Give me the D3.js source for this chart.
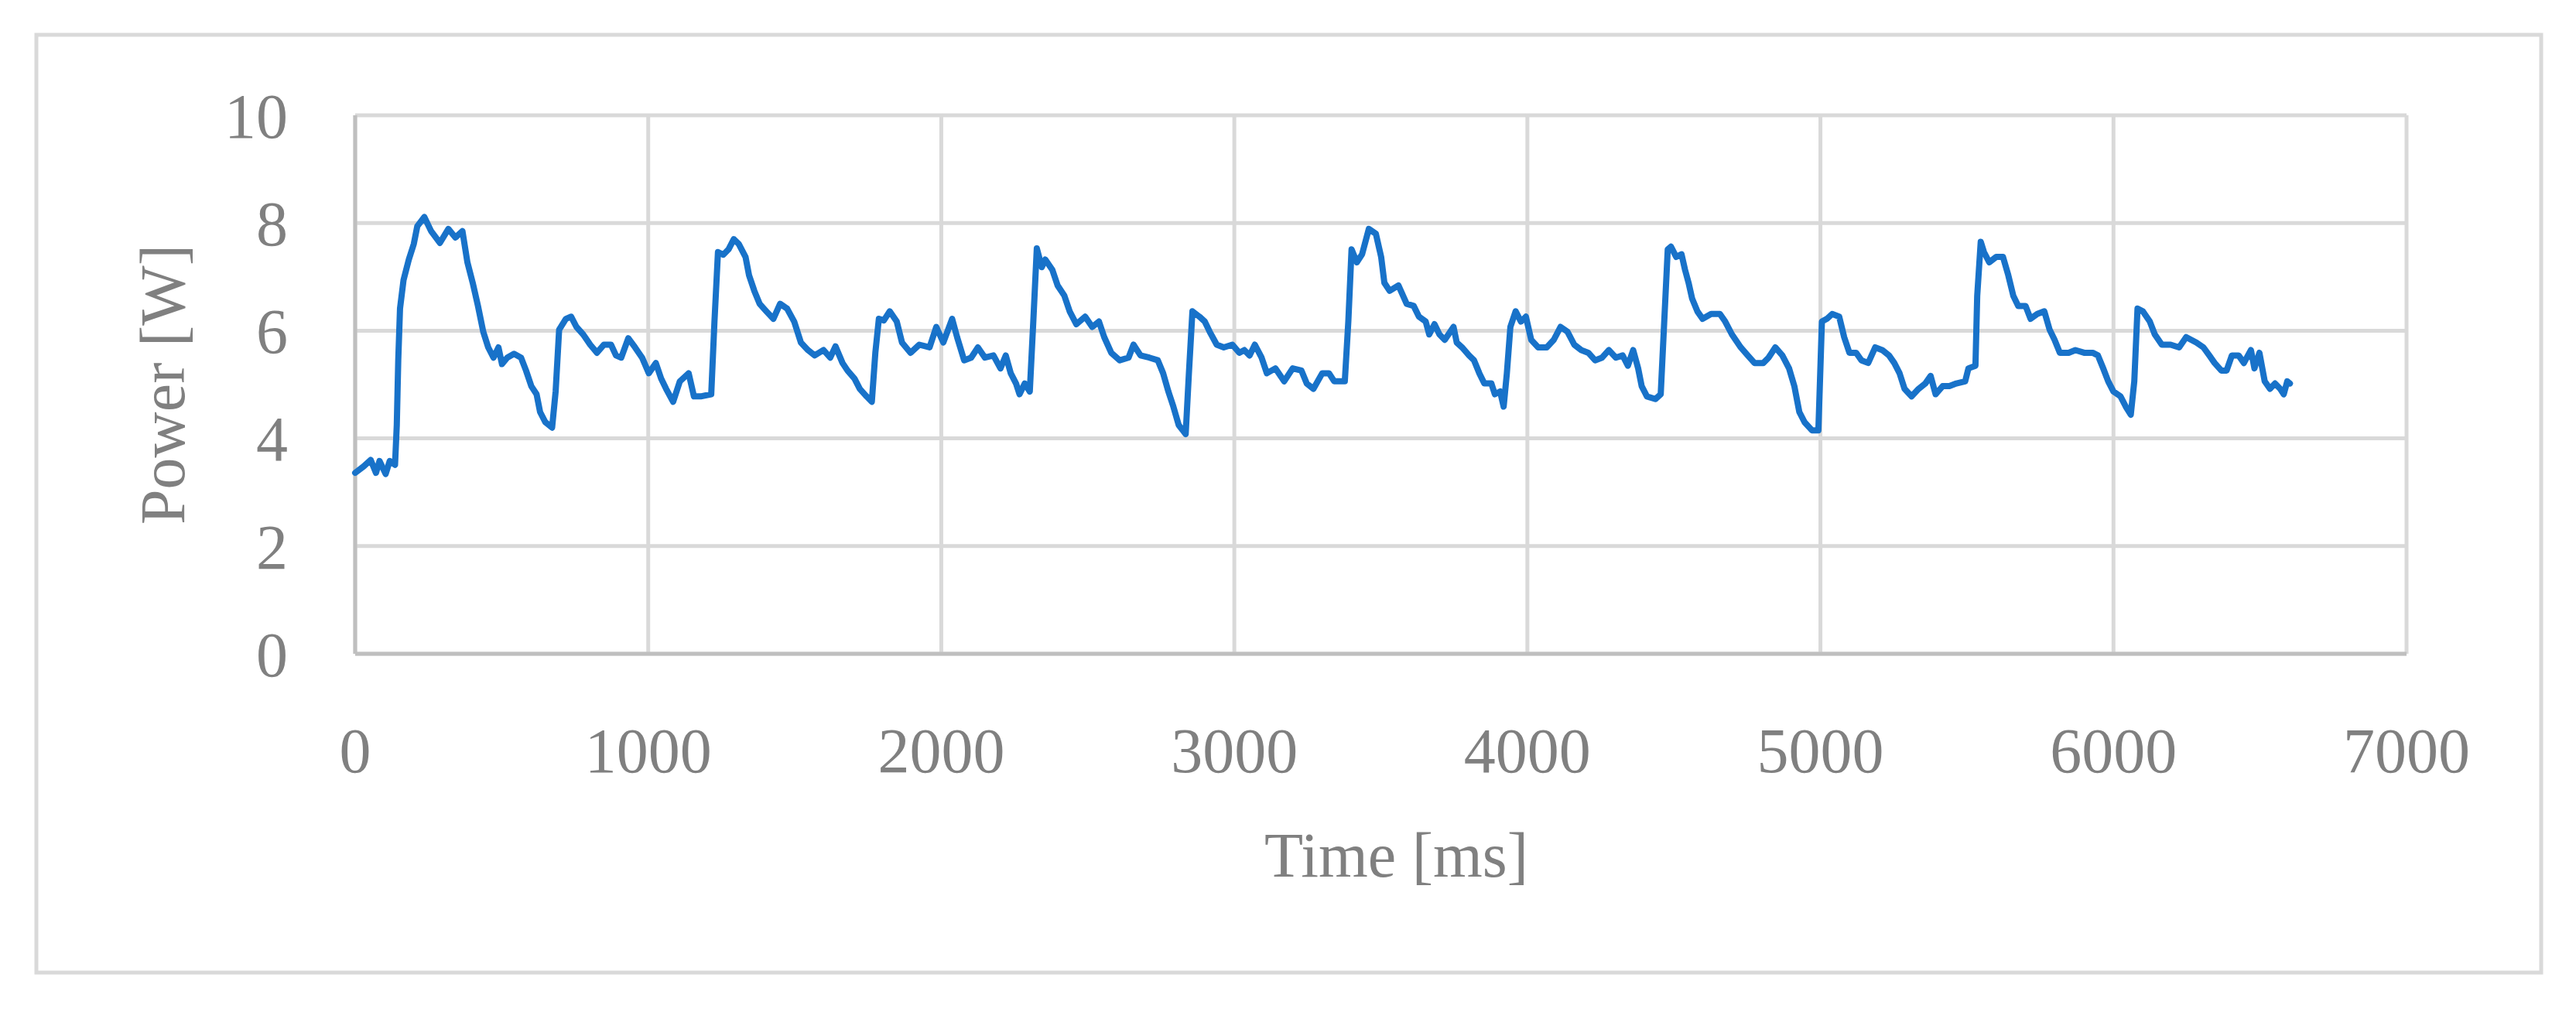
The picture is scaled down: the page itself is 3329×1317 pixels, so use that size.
<!DOCTYPE html>
<html>
<head>
<meta charset="utf-8">
<script src="https://cdn.jsdelivr.net/npm/d3@7"></script>
<style>
  body { margin:0; background:#fff; }
  text { font-family: "Book Antiqua", "Palatino Linotype", "Liberation Serif", serif; fill:#808080; }
</style>
</head>
<body>
<svg id="viz" width="3329" height="1317"></svg>
<script>
// time [ms] and power [W]
const times = [0,29,53,71,83,104,118,136,142,147,153,165,183,200,212,236,259,289,318,342,366,383,401,419,437,454,472,489,501,519,542,566,583,601,619,631,649,672,684,696,719,737,755,778,802,825,849,873,890,908,932,955,979,1002,1026,1044,1061,1085,1108,1138,1156,1179,1215,1226,1238,1256,1274,1292,1309,1332,1344,1362,1380,1403,1427,1450,1474,1498,1521,1545,1568,1598,1621,1639,1663,1680,1704,1722,1745,1763,1775,1787,1804,
  1824,1848,1866,1895,1925,1960,1983,2007,2037,2054,2078,2102,2125,2149,2178,2202,2220,2237,2255,2267,2285,2302,2314,2326,2343,2355,2379,2397,2420,2438,2461,2491,2515,2538,2556,2580,2609,2639,2656,2680,2710,2739,2757,2775,2792,2810,2834,2845,2857,2881,2899,2916,2940,2964,2993,3017,3034,3052,3070,3093,3111,3140,3170,3199,3229,3247,3270,3300,3323,3341,3377,3389,3400,3418,3436,3459,3483,3501,3512,3530,3560,3588,
  3612,3630,3653,3665,3683,3700,3718,3748,3759,3777,3801,3818,3836,3853,3877,3889,3907,3919,3930,3942,3960,3978,3995,4013,4037,4066,4090,4113,4137,4160,4184,4208,4231,4255,4278,4302,4325,4343,4361,4378,4390,4408,4437,4455,4467,4479,4490,4508,4526,4538,4550,4562,4580,4598,4627,4657,4675,4698,4728,4752,4775,4805,4823,4846,4870,4893,4911,4928,4946,4971,4993,
  5005,5022,5040,5064,5081,5099,5122,5140,5163,5187,5211,5234,5252,5270,5287,5311,5335,5358,5376,5393,5417,5440,5464,5494,5505,5529,5535,5547,5558,5576,5600,5623,5641,5658,5675,5700,5717,5740,5764,5782,5799,5817,5847,5870,5900,5929,5947,5965,5982,6000,6024,6042,6059,6071,6082,6100,6124,6141,6165,6195,6224,6248,6283,6307,
  6327,6345,6368,6386,6404,6427,6445,6469,6481,6498,6516,6534,6551,6569,6581,6593,6602]
const power = [3.36,3.48,3.60,3.36,3.58,3.34,3.58,3.51,4.25,5.45,6.41,6.94,7.32,7.61,7.94,8.11,7.85,7.63,7.89,7.73,7.85,7.27,6.89,6.46,5.98,5.69,5.50,5.69,5.38,5.50,5.57,5.50,5.26,4.97,4.82,4.49,4.30,4.20,4.87,6.02,6.22,6.26,6.07,5.93,5.74,5.59,5.74,5.74,5.54,5.50,5.86,5.69,5.50,5.21,5.40,5.11,4.92,4.68,5.06,5.21,4.78,4.78,4.82,6.17,7.46,7.41,7.51,7.70,7.61,7.37,7.03,6.74,6.50,6.36,6.22,6.50,6.41,6.17,5.78,5.64,5.54,5.64,5.50,5.71,5.40,5.26,5.11,4.92,4.78,4.68,5.59,6.22,6.19,
  6.36,6.17,5.78,5.59,5.74,5.69,6.07,5.78,6.22,5.88,5.45,5.50,5.69,5.50,5.54,5.30,5.54,5.21,5.02,4.82,5.02,4.87,6.17,7.53,7.18,7.32,7.13,6.84,6.65,6.36,6.12,6.26,6.07,6.17,5.88,5.59,5.45,5.50,5.74,5.54,5.50,5.45,5.21,4.87,4.59,4.25,4.08,5.21,6.36,6.26,6.17,5.98,5.74,5.69,5.74,5.59,5.64,5.54,5.74,5.50,5.21,5.30,5.06,5.30,5.26,5.02,4.92,5.21,5.21,5.06,5.06,6.17,7.51,7.27,7.42,7.89,7.80,7.37,6.89,6.74,6.84,6.50,
  6.46,6.26,6.17,5.93,6.12,5.93,5.83,6.07,5.78,5.69,5.54,5.45,5.21,5.02,5.02,4.82,4.87,4.59,5.21,6.07,6.36,6.17,6.26,5.83,5.69,5.69,5.83,6.07,5.98,5.74,5.64,5.59,5.45,5.50,5.64,5.50,5.54,5.35,5.64,5.30,4.97,4.78,4.73,4.82,6.17,7.51,7.56,7.37,7.42,7.13,6.89,6.60,6.36,6.22,6.31,6.31,6.17,5.93,5.69,5.54,5.40,5.40,5.50,5.69,5.54,5.30,4.97,4.49,4.30,4.15,4.15,
  6.17,6.22,6.31,6.26,5.88,5.59,5.59,5.45,5.40,5.69,5.64,5.54,5.40,5.21,4.92,4.78,4.92,5.02,5.16,4.82,4.97,4.97,5.02,5.06,5.30,5.35,6.65,7.65,7.46,7.27,7.37,7.37,7.03,6.65,6.46,6.46,6.22,6.31,6.36,6.02,5.83,5.59,5.59,5.64,5.59,5.59,5.54,5.30,5.06,4.87,4.78,4.59,4.44,5.06,6.41,6.36,6.17,5.93,5.74,5.74,5.69,5.88,5.78,5.69,
  5.54,5.40,5.26,5.26,5.54,5.54,5.40,5.64,5.30,5.59,5.06,4.92,5.02,4.92,4.82,5.06,5.02]
const xTicks = [0,1000,2000,3000,4000,5000,6000,7000]
const yTicks = [0,2,4,6,8,10]

const PLOT = { left:459, right:3110, top:149, bottom:845 }
const svg = d3.select("svg#viz")

svg.append('rect')
    .attr('x', 47).attr('y', 45).attr('width', 3237).attr('height', 1212)
    .attr('fill', '#fff').attr('stroke', '#d9d9d9').attr('stroke-width', 5)

const x = d3.scaleLinear().domain([0, 7000]).range([PLOT.left, PLOT.right])
const y = d3.scaleLinear().domain([0, 10]).range([PLOT.bottom, PLOT.top])

const grid = svg.append('g')
grid.selectAll('line.h')
    .data(yTicks)
    .join('line')
    .attr('class', 'h')
    .attr('x1', PLOT.left).attr('x2', PLOT.right)
    .attr('y1', d => y(d)).attr('y2', d => y(d))
    .attr('stroke', '#d9d9d9').attr('stroke-width', 5)
grid.selectAll('line.v')
    .data(xTicks)
    .join('line')
    .attr('class', 'v')
    .attr('x1', d => x(d)).attr('x2', d => x(d))
    .attr('y1', PLOT.top).attr('y2', PLOT.bottom)
    .attr('stroke', '#d9d9d9').attr('stroke-width', 5)

// axis lines
svg.append('line').attr('x1', PLOT.left).attr('x2', PLOT.right)
    .attr('y1', PLOT.bottom).attr('y2', PLOT.bottom)
    .attr('stroke', '#bfbfbf').attr('stroke-width', 5)
svg.append('line').attr('x1', PLOT.left).attr('x2', PLOT.left)
    .attr('y1', PLOT.top).attr('y2', PLOT.bottom)
    .attr('stroke', '#bfbfbf').attr('stroke-width', 5)

svg.append('g').selectAll('text')
    .data(yTicks)
    .join('text')
    .attr('x', 372)
    .attr('y', d => y(d))
    .attr('dy', '0.35em')
    .attr('text-anchor', 'end')
    .attr('font-size', 82)
    .text(d => d)

svg.append('g').selectAll('text')
    .data(xTicks)
    .join('text')
    .attr('x', d => x(d))
    .attr('y', 998)
    .attr('text-anchor', 'middle')
    .attr('font-size', 82)
    .text(d => d)

svg.append('text')
    .attr('transform', `translate(238, ${(PLOT.top + PLOT.bottom) / 2}) rotate(-90)`)
    .attr('text-anchor', 'middle')
    .attr('font-size', 82)
    .text('Power [W]')

svg.append('text')
    .attr('x', (PLOT.left + PLOT.right) / 2 + 20)
    .attr('y', 1133)
    .attr('text-anchor', 'middle')
    .attr('font-size', 82)
    .text('Time [ms]')

const data = times.map((t, i) => ({ t: t, p: power[i] }))
const line = d3.line().x(d => x(d.t)).y(d => y(d.p))

svg.append('path')
    .datum(data)
    .attr('d', line)
    .attr('fill', 'none')
    .attr('stroke', '#1872c9')
    .attr('stroke-width', 8)
    .attr('stroke-linejoin', 'round')
    .attr('stroke-linecap', 'round')
</script>
</body>
</html>
